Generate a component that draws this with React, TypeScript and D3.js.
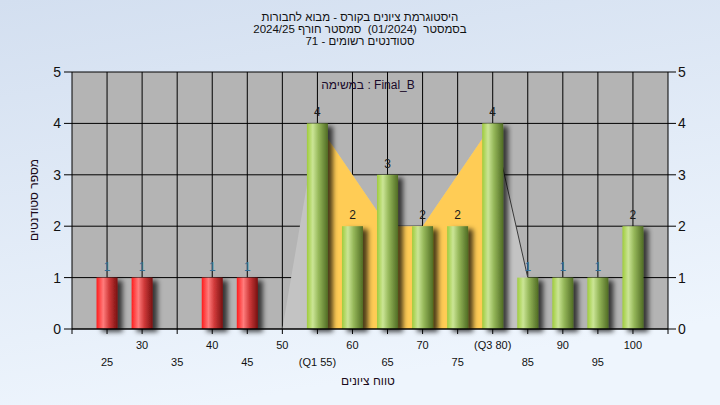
import * as d3 from "d3";

const scores = [25, 30, 35, 40, 45, 50, 55, 60, 65, 70, 75, 80, 85, 90, 95, 100];
const counts = [1, 1, 0, 1, 1, 0, 4, 2, 3, 2, 2, 4, 1, 1, 1, 2];
const tickLabels = ["25", "30", "35", "40", "45", "50", "(Q1 55)", "60", "65", "70", "75", "(Q3 80)", "85", "90", "95", "100"];
const passScore = 55;

// frequency outline drawn behind the bars
const polyScores = [50, 55, 65, 70, 80, 85];
const polyCounts = [0, 4, 2, 2, 4, 1];
const q1 = 55;
const q3 = 80;

const yTicks = [0, 1, 2, 3, 4, 5];

const titleLines = [
  "היסטוגרמת ציונים בקורס - מבוא לחבורות",
  "בסמסטר  (01/2024)  סמסטר חורף 2024/25",
  "סטודנטים רשומים - 71",
];
const seriesLabel = "במשימה : Final_B";
const xTitle = "טווח ציונים";
const yTitle = "מספר סטודנטים";

const W = 720;
const H = 405;
const margin = { top: 72, right: 52, bottom: 76, left: 72 };
const FONT = "'Liberation Sans', Arial, sans-serif";

export default function App() {
  const x = d3.scaleLinear().domain([20, 105]).range([margin.left, W - margin.right]);
  const y = d3.scaleLinear().domain([0, 5]).range([H - margin.bottom, margin.top]);
  const x0 = margin.left;
  const x1 = W - margin.right;
  const y0 = y(0);
  const barW = 21;

  const pts = polyScores.map((s, i) => ({ s, c: polyCounts[i] }));
  const area = d3
    .area<{ s: number; c: number }>()
    .x((d) => x(d.s))
    .y0(y0)
    .y1((d) => y(d.c));
  const iqrPts = pts.filter((d) => d.s >= q1 && d.s <= q3);
  const tailPts = pts.filter((d) => d.s >= q3);
  const line = d3
    .line<{ s: number; c: number }>()
    .x((d) => x(d.s))
    .y((d) => y(d.c));

  return (
    <svg
      width={W}
      height={H}
      style={{ position: "absolute", left: 0, top: 0, fontFamily: FONT }}
    >
      <defs>
        <linearGradient id="pageBg" x1="0" y1="0" x2="0.3" y2="1">
          <stop offset="0%" stopColor="#d3dff0" />
          <stop offset="100%" stopColor="#eef5fd" />
        </linearGradient>
        <linearGradient id="greenBar" x1="0" y1="0" x2="1" y2="0">
          <stop offset="0%" stopColor="#9fcc3c" />
          <stop offset="28%" stopColor="#cbe596" />
          <stop offset="55%" stopColor="#96b85a" />
          <stop offset="100%" stopColor="#506c24" />
        </linearGradient>
        <linearGradient id="redBar" x1="0" y1="0" x2="1" y2="0">
          <stop offset="0%" stopColor="#ff1c1c" />
          <stop offset="32%" stopColor="#ff7c7c" />
          <stop offset="60%" stopColor="#d03a3a" />
          <stop offset="100%" stopColor="#781010" />
        </linearGradient>
        <filter id="shadow" x="-30%" y="-10%" width="180%" height="130%">
          <feDropShadow dx="5" dy="3" stdDeviation="2.6" floodColor="#000" floodOpacity="0.7" />
        </filter>
      </defs>

      <rect width={W} height={H} fill="url(#pageBg)" />

      {/* title */}
      {titleLines.map((t, i) => (
        <text
          key={i}
          x={360}
          y={21 + i * 12}
          textAnchor="middle"
          fontSize={11.5}
          fill="#111"
          style={{ whiteSpace: "pre" }}
        >
          {t}
        </text>
      ))}

      {/* plot area */}
      <rect x={x0} y={margin.top} width={x1 - x0} height={y0 - margin.top} fill="#b4b4b4" />

      {yTicks.slice(1).map((t) => (
        <line key={"gy" + t} x1={x0} x2={x1} y1={y(t)} y2={y(t)} stroke="#000" strokeWidth={1} />
      ))}
      {scores.map((s) => (
        <line key={"gx" + s} x1={x(s)} x2={x(s)} y1={margin.top} y2={y0} stroke="#000" strokeWidth={1} />
      ))}

      <path d={area(pts) ?? ""} fill="#c3c3c3" />
      <path d={area(iqrPts) ?? ""} fill="#ffcc55" />
      <path d={line(tailPts) ?? ""} fill="none" stroke="#3a3a3a" strokeWidth={1} />

      <text x={368} y={89} textAnchor="middle" fontSize={12} fill="#1a0a2a">
        {seriesLabel}
      </text>

      {/* bars */}
      {scores.map((s, i) =>
        counts[i] > 0 ? (
          <rect
            key={"b" + s}
            x={x(s) - barW / 2}
            y={y(counts[i])}
            width={barW}
            height={y0 - y(counts[i])}
            fill={s < passScore ? "url(#redBar)" : "url(#greenBar)"}
            filter="url(#shadow)"
          />
        ) : null
      )}
      {scores.map((s, i) =>
        counts[i] > 0 ? (
          <text
            key={"l" + s}
            x={x(s)}
            y={y(counts[i]) - 7}
            textAnchor="middle"
            fontSize={12}
            fill={counts[i] === 1 ? "#2f6f98" : "#1a1a1a"}
          >
            {counts[i]}
          </text>
        ) : null
      )}

      {/* axes */}
      <line x1={x0} x2={x0} y1={margin.top} y2={y0 + 5} stroke="#000" strokeWidth={1} />
      <line x1={x1} x2={x1} y1={margin.top} y2={y0 + 5} stroke="#000" strokeWidth={1} />
      <line x1={x0} x2={x1} y1={y0} y2={y0} stroke="#000" strokeWidth={1.5} />
      {yTicks.map((t) => (
        <g key={"yt" + t}>
          <line x1={x0 - 8} x2={x0} y1={y(t)} y2={y(t)} stroke="#000" />
          <line x1={x1} x2={x1 + 8} y1={y(t)} y2={y(t)} stroke="#000" />
          <text x={x0 - 11} y={y(t)} dy="0.36em" textAnchor="end" fontSize={14} fill="#111">
            {t}
          </text>
          <text x={x1 + 10} y={y(t)} dy="0.36em" textAnchor="start" fontSize={14} fill="#111">
            {t}
          </text>
        </g>
      ))}
      {scores.map((s, i) => (
        <g key={"xt" + s}>
          <line x1={x(s)} x2={x(s)} y1={y0} y2={y0 + 5} stroke="#000" />
          <text
            x={x(s)}
            y={i % 2 === 1 ? 349 : 366}
            textAnchor="middle"
            fontSize={11}
            fill="#111"
          >
            {tickLabels[i]}
          </text>
        </g>
      ))}

      <text x={368} y={385} textAnchor="middle" fontSize={12} fill="#1a0a1a">
        {xTitle}
      </text>
      <text
        transform={`translate(38,200) rotate(-90)`}
        textAnchor="middle"
        fontSize={12}
        fill="#1a0a1a"
      >
        {yTitle}
      </text>
    </svg>
  );
}
